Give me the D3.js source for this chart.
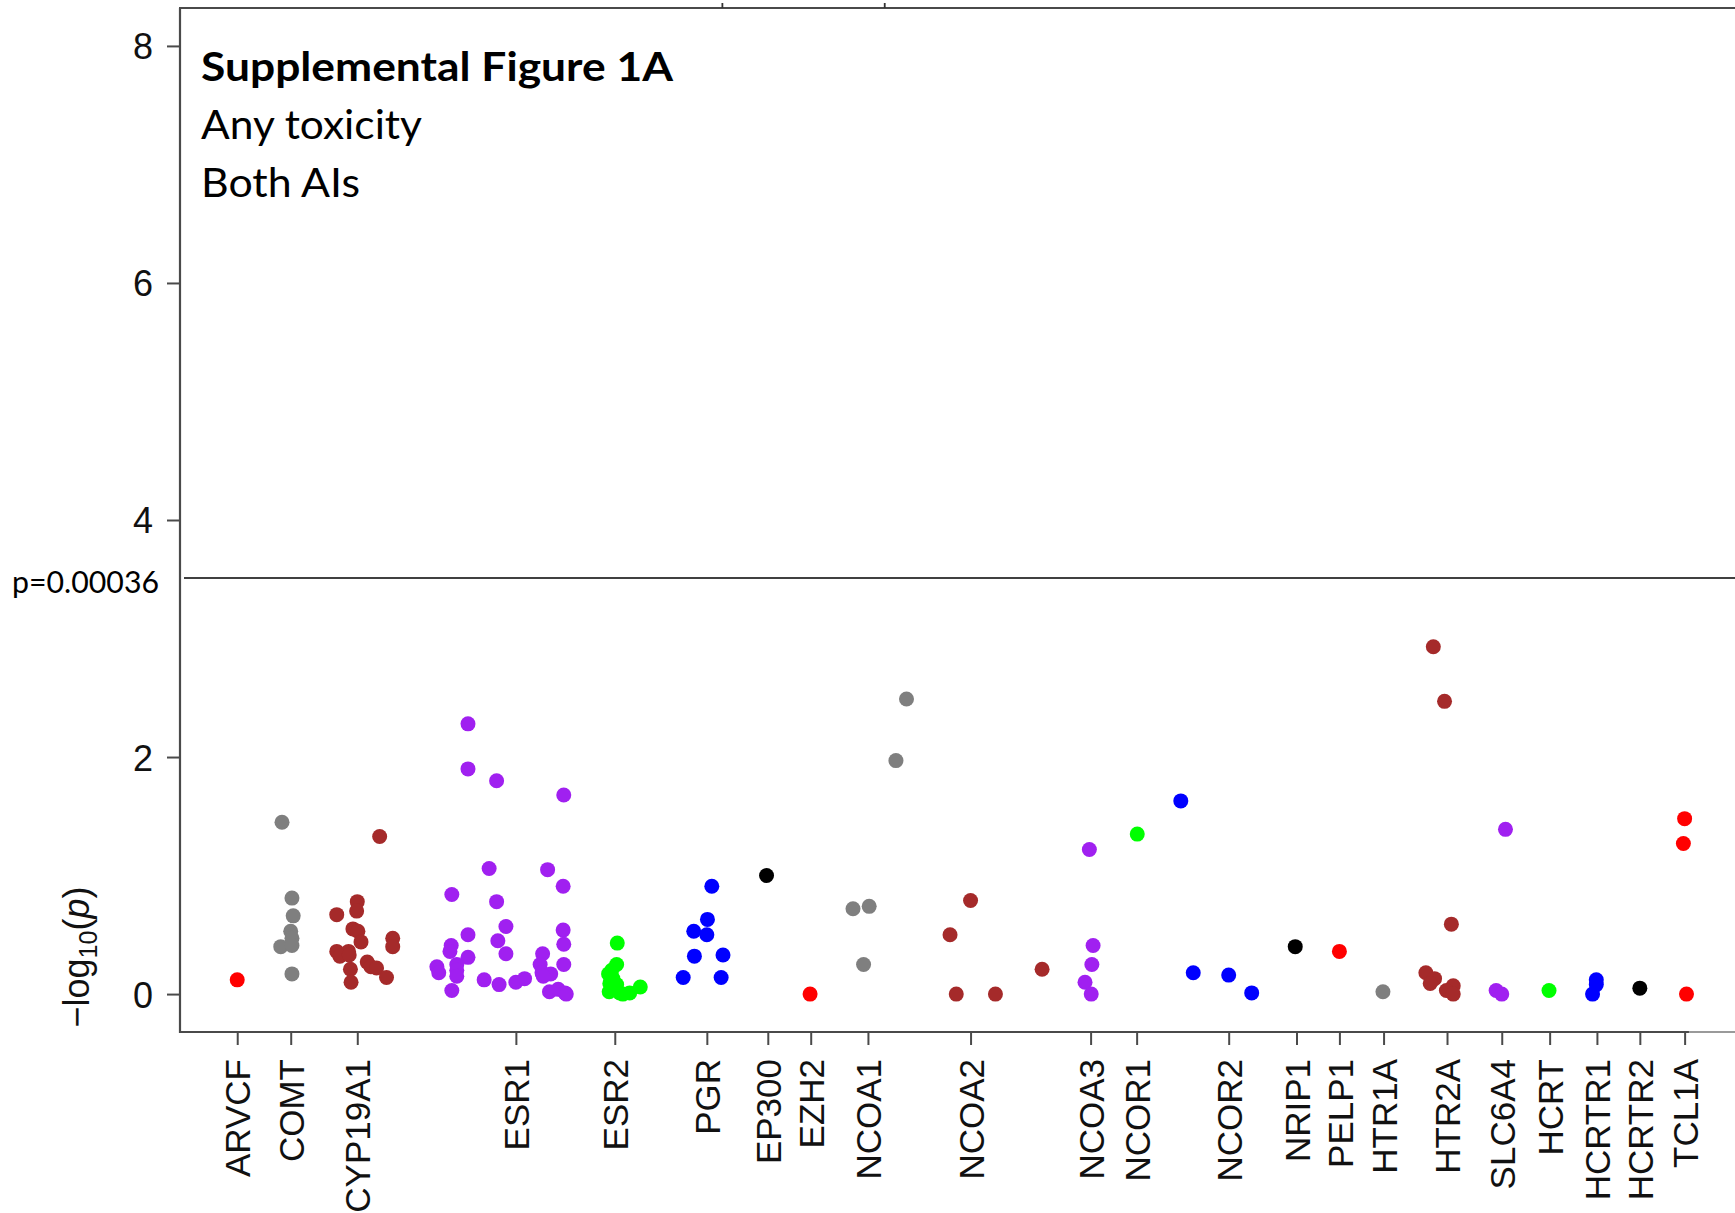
<!DOCTYPE html>
<html>
<head>
<meta charset="utf-8">
<script src="https://cdn.jsdelivr.net/npm/d3@7/dist/d3.min.js"></script>
<style>
  html, body { margin: 0; padding: 0; background: #fff; }
  svg { display: block; }
</style>
</head>
<body>
<svg id="chart" width="1735" height="1213"></svg>
<script>
// ---------------- DATA ----------------
const genes = ["ARVCF","COMT","CYP19A1","ESR1","ESR2","PGR","EP300","EZH2","NCOA1","NCOA2",
  "NCOA3","NCOR1","NCOR2","NRIP1","PELP1","HTR1A","HTR2A","SLC6A4","HCRT","HCRTR1","HCRTR2","TCL1A"];
// gene label position along the SNP index axis
const geneTicks = [9.2, 17.8, 28.5, 54.0, 69.9, 84.7, 94.5, 101.4, 110.6, 127.1,
  146.4, 153.8, 168.6, 179.5, 186.4, 193.5, 203.7, 212.5, 220.2, 227.8, 234.7, 241.9];
const yTicks = [0, 2, 4, 6, 8];
const palette = ["#FF0000","#7F7F7F","#A52A2A","#A020F0","#00FF00","#0000FF","#000000"];

// SNPs: gene index, position on SNP index axis, -log10(p)
const snpGene = [
  0,
  1,1,1,1,1,1,1,1,
  2,2,2,2,2,2,2,2,2,2,2,2,2,2,2,2,2,2,2,
  3,3,3,3,3,3,3,3,3,3,3,3,3,3,3,3,3,3,3,3,3,3,3,3,3,3,3,3,3,3,3,3,3,3,3,3,3,3,
  4,4,4,4,4,4,4,4,4,4,4,4,
  5,5,5,5,5,5,5,5,
  6,
  7,
  8,8,8,8,8,
  9,9,9,9,9,
  10,10,10,10,10,
  11,
  12,12,12,12,
  13,
  14,
  15,
  16,16,16,16,16,16,16,16,16,
  17,17,17,
  18,
  19,19,19,
  20,
  21,21,21
];
const snpPos = [
  9.2,
  16.4,18.0,18.2,17.8,18.0,16.2,18.0,18.0,
  32.1,28.5,28.4,25.2,27.8,28.6,29.1,34.2,34.2,25.2,27.1,25.7,27.2,27.4,30.1,30.7,31.6,33.2,27.5,
  46.3,46.3,50.9,61.7,49.7,59.1,61.6,43.7,50.9,52.4,46.3,61.6,51.1,43.6,43.4,61.7,46.3,52.4,58.3,61.7,
  41.3,41.6,44.5,44.5,44.5,57.9,58.2,59.6,58.4,48.9,51.3,54.0,55.4,43.7,59.4,60.8,61.9,62.1,
  70.3,70.2,69.4,68.9,69.1,70.2,69.0,70.7,72.3,74.0,69.6,71.2,
  85.5,84.8,82.6,84.7,82.7,87.3,80.9,87.0,
  94.3,
  101.3,
  116.8,115.1,108.2,110.8,109.9,
  127.1,123.8,124.8,131.1,138.6,
  146.2,146.8,146.6,145.5,146.5,
  153.9,
  160.9,162.9,168.6,172.3,
  179.3,
  186.4,
  193.4,
  201.5,203.3,204.4,200.3,201.7,201.0,204.7,203.6,204.7,
  213.1,211.6,212.5,
  220.1,
  227.7,227.7,227.1,
  234.7,
  241.9,241.7,242.2
];
const snpLogP = [
  0.12,
  1.45,0.81,0.66,0.53,0.47,0.40,0.41,0.17,
  1.33,0.78,0.70,0.67,0.55,0.53,0.44,0.47,0.40,0.36,0.36,0.32,0.33,0.21,0.27,0.23,0.22,0.14,0.10,
  2.28,1.90,1.80,1.68,1.06,1.05,0.91,0.84,0.78,0.57,0.50,0.54,0.45,0.41,0.36,0.42,0.31,0.34,0.34,0.25,
  0.23,0.18,0.25,0.20,0.15,0.25,0.18,0.17,0.15,0.12,0.08,0.10,0.13,0.03,0.02,0.04,0.01,0.00,
  0.43,0.25,0.20,0.17,0.09,0.08,0.02,0.01,0.01,0.06,0.13,0.00,
  0.91,0.63,0.53,0.50,0.32,0.33,0.14,0.14,
  1.00,
  0.00,
  2.49,1.97,0.72,0.74,0.25,
  0.79,0.50,0.00,0.00,0.21,
  1.22,0.41,0.25,0.10,0.00,
  1.35,
  1.63,0.18,0.16,0.01,
  0.40,
  0.36,
  0.02,
  2.93,2.47,0.59,0.18,0.13,0.09,0.07,0.03,0.00,
  1.39,0.03,0.00,
  0.03,
  0.12,0.08,0.00,
  0.05,
  1.48,1.27,0.00
];
const thresholdLabel = "p=0.00036";
const thresholdLogP = 3.51;
const titleLines = ["Supplemental Figure 1A", "Any toxicity", "Both AIs"];
// stray ticks of the cropped panel above (SNP index positions)
const strayTicks = [87.2, 113.3];

// ---------------- CHART ----------------
const svg = d3.select("#chart");
const plotLeft = 180, plotTop = 8, plotBottom = 1032, plotRight = 1735;

const x = d3.scaleLinear().domain([0, 250]).range([plotLeft, plotRight]);
const y = d3.scaleLinear().domain([-0.32, 8.32]).range([plotBottom, plotTop]);

const axisColor = "#4a4a4a";
const tickFont = "'Liberation Sans', Arial, Helvetica, sans-serif";
const noteFont = "Lato, 'Open Sans', sans-serif";

// Y axis
const yAxis = svg.append("g")
  .attr("transform", `translate(${plotLeft},0)`)
  .call(d3.axisLeft(y).tickValues(yTicks).tickSize(13).tickPadding(14).tickFormat(d3.format("d")));
yAxis.select(".domain").remove();
yAxis.selectAll(".tick line").attr("stroke", axisColor).attr("stroke-width", 2);
yAxis.selectAll(".tick text")
  .style("font-family", tickFont).style("font-size", "36px").attr("fill", "#111").attr("dy", "0.36em");

// X axis
const xAxis = svg.append("g")
  .attr("transform", `translate(0,${plotBottom})`)
  .call(d3.axisBottom(x).tickValues(geneTicks).tickSize(13).tickFormat((d, i) => genes[i]));
xAxis.select(".domain").remove();
xAxis.selectAll(".tick line").attr("stroke", axisColor).attr("stroke-width", 2);
xAxis.selectAll(".tick text")
  .attr("transform", "rotate(-90)")
  .attr("x", -27).attr("y", 0).attr("dy", "0.36em")
  .style("text-anchor", "end")
  .style("font-family", tickFont).style("font-size", "35px").attr("fill", "#111");

// Box (left, top, bottom; right side cropped)
svg.append("line").attr("x1", plotLeft).attr("x2", plotLeft).attr("y1", plotTop).attr("y2", plotBottom + 1)
  .attr("stroke", axisColor).attr("stroke-width", 2.2);
svg.append("line").attr("x1", plotLeft - 1).attr("x2", plotRight).attr("y1", plotTop).attr("y2", plotTop)
  .attr("stroke", axisColor).attr("stroke-width", 2.2);
svg.append("line").attr("x1", plotLeft - 1).attr("x2", x(242.6)).attr("y1", plotBottom).attr("y2", plotBottom)
  .attr("stroke", axisColor).attr("stroke-width", 2.2);
svg.append("line").attr("x1", x(242.6)).attr("x2", plotRight).attr("y1", plotBottom).attr("y2", plotBottom)
  .attr("stroke", "#9a9a9a").attr("stroke-width", 2.2);

// stray ticks above the top border
svg.selectAll("line.stray").data(strayTicks).join("line").attr("class", "stray")
  .attr("x1", d => x(d)).attr("x2", d => x(d)).attr("y1", 3).attr("y2", plotTop)
  .attr("stroke", "#333").attr("stroke-width", 1.8);

// Threshold line
svg.append("line")
  .attr("x1", plotLeft + 4).attr("x2", plotRight)
  .attr("y1", y(thresholdLogP)).attr("y2", y(thresholdLogP))
  .attr("stroke", "#000").attr("stroke-width", 1.6);
svg.append("text")
  .attr("x", 12).attr("y", y(thresholdLogP) + 15)
  .attr("textLength", 147).attr("lengthAdjust", "spacingAndGlyphs")
  .style("font-family", noteFont).style("font-size", "30px").attr("fill", "#000")
  .text(thresholdLabel);

// Points
const pts = snpPos.map((p, i) => ({ pos: p, val: snpLogP[i], gene: snpGene[i] }));
svg.append("g").selectAll("circle").data(pts).join("circle")
  .attr("cx", d => x(d.pos))
  .attr("cy", d => y(d.val))
  .attr("r", 7.5)
  .attr("fill", d => palette[d.gene % palette.length]);

// Y axis title: −log10(p)
const yl = svg.append("text")
  .attr("transform", `translate(89,957) rotate(-90)`)
  .style("text-anchor", "middle")
  .style("font-family", tickFont).style("font-size", "36px").attr("fill", "#111");
yl.append("tspan").text("\u2212log");
yl.append("tspan").attr("dy", 8).style("font-size", "25px").text("10");
yl.append("tspan").attr("dy", -8).text("(");
yl.append("tspan").style("font-style", "italic").text("p");
yl.append("tspan").text(")");

// Title block
const titleBaselines = [81, 139, 197];
const titleWidths = [472, 221, 159];
svg.selectAll("text.title").data(titleLines).join("text").attr("class", "title")
  .attr("x", 201).attr("y", (d, i) => titleBaselines[i])
  .attr("textLength", (d, i) => titleWidths[i]).attr("lengthAdjust", "spacingAndGlyphs")
  .style("font-family", noteFont)
  .style("font-size", "40px")
  .style("font-weight", (d, i) => i === 0 ? "bold" : "normal")
  .attr("fill", "#000")
  .text(d => d);
</script>
</body>
</html>
